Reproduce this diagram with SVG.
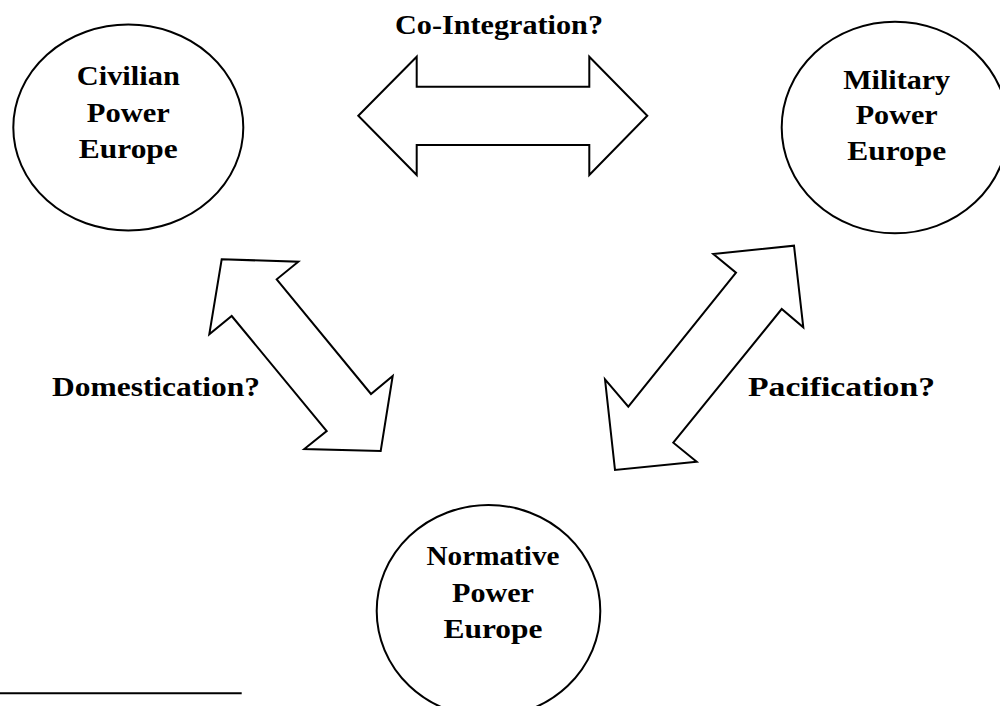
<svg xmlns="http://www.w3.org/2000/svg" width="1000" height="706" viewBox="0 0 1000 706">
<style>
.node{fill:#fff;stroke:#000;stroke-width:2}
.arrow{fill:#fff;stroke:#000;stroke-width:2;stroke-linejoin:miter}
text{font-family:"Liberation Serif","Times New Roman",serif;font-weight:bold;font-size:28px;fill:#000}
.c{text-anchor:middle}
</style>
<rect width="1000" height="706" fill="#fff"/>
<g id="connectors">
<polygon class="arrow" points="358.3,115.7 416.7,56.7 416.7,86.7 589.3,86.7 589.3,56.7 647.3,115.7 589.3,175 589.3,145 416.7,145 416.7,175"/>
<polygon class="arrow" points="221.7,259.3 298.3,261.7 276.7,279.3 371,394 392.7,376 380.7,451 304.3,449 326.7,431 231.7,316 209.3,334.3"/>
<polygon class="arrow" points="794,245.7 803.3,327.3 781.7,309 673.3,442.7 696.7,461.7 615,470 605,379.3 628.3,406.7 736,272.7 713.3,254"/>
<text x="395" y="34" textLength="208" lengthAdjust="spacingAndGlyphs">Co-Integration?</text>
<text x="52" y="396" textLength="208" lengthAdjust="spacingAndGlyphs">Domestication?</text>
<text x="748" y="396" textLength="187" lengthAdjust="spacingAndGlyphs">Pacification?</text>
</g>
<g id="civilian">
<ellipse class="node" cx="128.3" cy="127.5" rx="115" ry="103"/>
<text class="c" x="128.3" y="85" textLength="103" lengthAdjust="spacingAndGlyphs">Civilian</text>
<text class="c" x="128.3" y="121.7" textLength="83" lengthAdjust="spacingAndGlyphs">Power</text>
<text class="c" x="128.3" y="158.3" textLength="99" lengthAdjust="spacingAndGlyphs">Europe</text>
</g>
<g id="military">
<ellipse class="node" cx="895" cy="127.5" rx="113.3" ry="105.8"/>
<text class="c" x="896.7" y="89.3" textLength="107" lengthAdjust="spacingAndGlyphs">Military</text>
<text class="c" x="896.7" y="124.3" textLength="82" lengthAdjust="spacingAndGlyphs">Power</text>
<text class="c" x="896.7" y="160" textLength="99" lengthAdjust="spacingAndGlyphs">Europe</text>
</g>
<g id="normative">
<ellipse class="node" cx="488.5" cy="611" rx="111.8" ry="106"/>
<text class="c" x="493" y="565" textLength="133" lengthAdjust="spacingAndGlyphs">Normative</text>
<text class="c" x="493" y="601.7" textLength="82" lengthAdjust="spacingAndGlyphs">Power</text>
<text class="c" x="493" y="638.3" textLength="99" lengthAdjust="spacingAndGlyphs">Europe</text>
</g>
<line x1="0" y1="693.3" x2="241.7" y2="693.3" stroke="#000" stroke-width="2"/>
</svg>
